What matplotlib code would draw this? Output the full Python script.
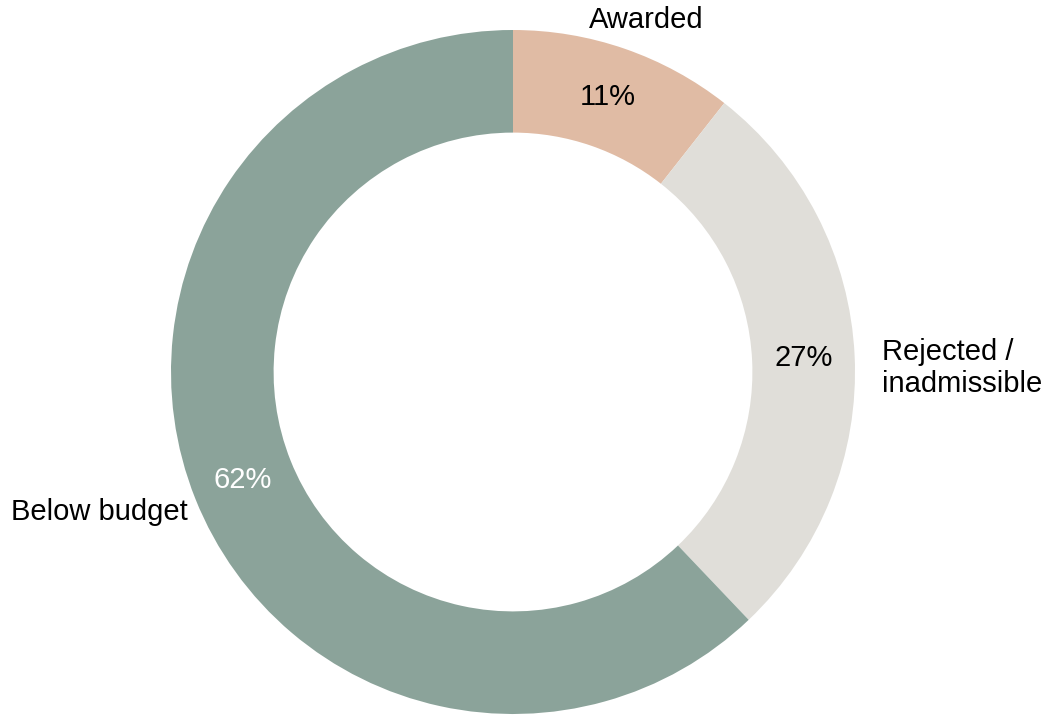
import matplotlib.pyplot as plt

plt.rcParams['font.family'] = ['Liberation Sans', 'DejaVu Sans']

# Daten (Anteile in %, aus dem Bild geschaetzt)
labels = ["Awarded", "Rejected /\ninadmissible", "Below budget"]
shares = [10.6, 27.3, 62.1]
colors = ["#E0BBA4", "#E0DED9", "#8BA39A"]
pct_colors = ["black", "black", "white"]

fig = plt.figure(figsize=(10.45, 7.15), dpi=100)
# Achse so legen, dass der Ring mittig bei (513, 372) px sitzt
size = 752.4
ax = fig.add_axes([(513 - size / 2) / 1045, (343 - size / 2) / 715,
                   size / 1045, size / 715])

wedges, _, autotexts = ax.pie(
    shares, colors=colors, startangle=90, counterclock=False,
    autopct='%.0f%%', pctdistance=0.85,
    wedgeprops=dict(width=0.3, linewidth=0),
    textprops=dict(fontsize=21),
)
for t, c in zip(autotexts, pct_colors):
    t.set_color(c)

ax.set_xlim(-1.1, 1.1)
ax.set_ylim(-1.1, 1.1)

# Aussenbeschriftungen
label_pos = [(0.389, 1.03, 'center'), (1.079, 0.012, 'left'), (-0.95, -0.41, 'right')]
for lab, (x, y, ha) in zip(labels, label_pos):
    ax.text(x, y, lab, ha=ha, va='center', fontsize=21, linespacing=1.2)

fig.savefig("out.png", dpi=100)
